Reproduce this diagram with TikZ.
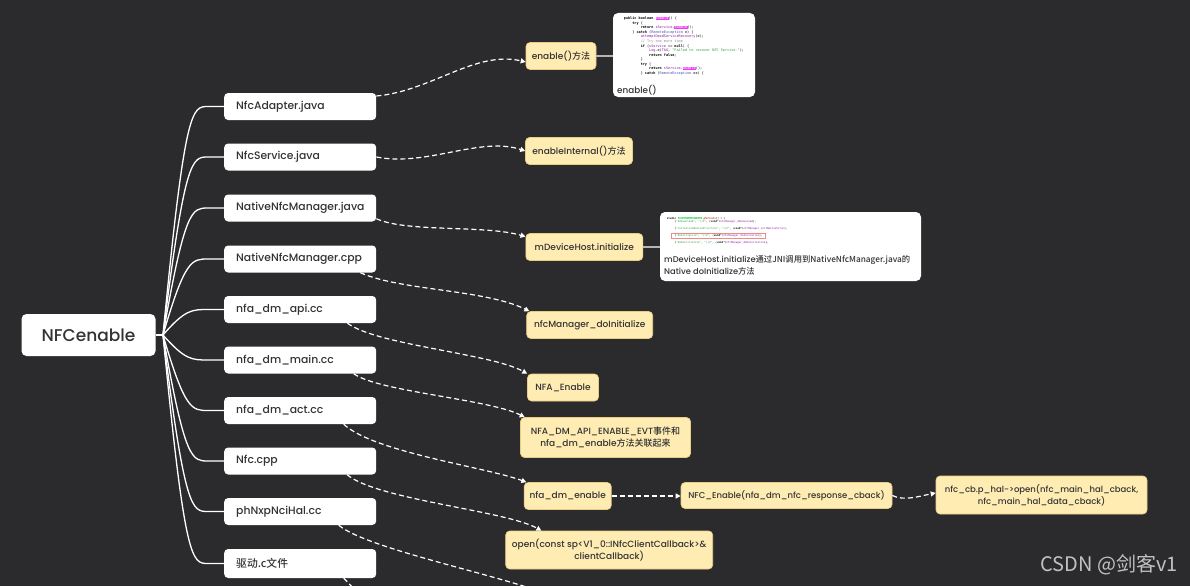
\documentclass[tikz,border=0pt]{standalone}
\usepackage{fontspec}
\setmainfont{Poppins}[UprightFont=* Medium,BoldFont=* Bold]
\newfontfamily\cjk{Noto Sans CJK SC}[UprightFont=* Medium]
\newfontfamily\cjkmark{Noto Sans CJK SC}
\newfontfamily\codefont{DejaVu Sans Mono}
\usetikzlibrary{arrows.meta}
\definecolor{bgdark}{HTML}{2B2B2D}
\definecolor{textdark}{HTML}{333333}
\definecolor{notefill}{HTML}{FFECB3}
\definecolor{noteline}{HTML}{E9CD84}
\definecolor{linkgray}{HTML}{B5B5B5}
\definecolor{codemag}{HTML}{F03CF0}
\definecolor{codepurple}{HTML}{8A1A9B}
\definecolor{codeblue}{HTML}{3F4FB8}
\definecolor{codegreen}{HTML}{2E9B3E}
\definecolor{codegray}{HTML}{8A8A8A}
\definecolor{codehl}{HTML}{5BD67A}
\definecolor{codered}{HTML}{F08A80}
\definecolor{markgray}{HTML}{D2D2D2}
\newcommand\hlmag[1]{{\setlength\fboxsep{0.2pt}\colorbox{codemag}{\textcolor{white}{#1}}}}
\newcommand\hlgreen[1]{{\setlength\fboxsep{0.2pt}\colorbox{codehl}{\textcolor{white}{#1}}}}
\begin{document}
\begin{tikzpicture}[x=1pt,y=-1pt,
    rootbox/.style={fill=white,rounded corners=5pt,text=textdark,font=\fontsize{17}{20}\selectfont,minimum width=134pt,minimum height=42pt},
    filebox/.style={fill=white,rounded corners=4pt,text=textdark,anchor=west,font=\fontsize{10.8}{13}\selectfont,text width=128pt,inner xsep=12pt,align=left,minimum height=27pt},
    notebox/.style={fill=notefill,draw=noteline,line width=0.6pt,rounded corners=4pt,text=textdark,font=\fontsize{9}{12}\selectfont,align=center,inner xsep=3pt,minimum height=27pt},
    codebox/.style={fill=white,rounded corners=5pt},
    codetext/.style={anchor=north west,inner sep=0pt,align=left,text=black},
    caption/.style={inner sep=0pt,text=textdark,align=left},
    branch/.style={white,line width=1.3pt},
    dashlink/.style={white,line width=1.2pt,dash pattern=on 5pt off 3pt,-{Triangle[width=5pt,length=5pt]}},
    graylink/.style={linkgray,line width=1.6pt}]
    \useasboundingbox (0,0) rectangle (1190,586);
    \fill[bgdark] (0,0) rectangle (1190,586);
    \clip (0,0) rectangle (1190,586);

    \node[rootbox] (root) at (88.5,335) {NFCenable};
    \coordinate (hub) at (163,335);
    \coordinate (hubA) at (185,335);
    \coordinate (hubB) at (192,335);
    \coordinate (hubC) at (208,335);

    \node[filebox] (adapter) at (224,106.5) {NfcAdapter.java};
    \node[filebox] (service) at (224,157) {NfcService.java};
    \node[filebox] (nmjava) at (224,208) {NativeNfcManager.java};
    \node[filebox] (nmcpp) at (224,259) {NativeNfcManager.cpp};
    \node[filebox] (dmapi) at (224,309.5) {nfa\_dm\_api.cc};
    \node[filebox] (dmmain) at (224,360) {nfa\_dm\_main.cc};
    \node[filebox] (dmact) at (224,410.5) {nfa\_dm\_act.cc};
    \node[filebox] (nfccpp) at (224,461) {Nfc.cpp};
    \node[filebox] (halcc) at (224,511.5) {phNxpNciHal.cc};
    \node[filebox,minimum height=29pt] (driver) at (224,563.5) {\cjk{驱动}.c\cjk{文件}};

    \node[notebox,minimum width=70pt] (enablem) at (561,56) {enable()\cjk{方法}};
    \node[notebox,minimum width=107pt] (internal) at (579,151) {enableInternal()\cjk{方法}};
    \node[notebox,minimum width=117pt] (devhost) at (584.3,247) {mDeviceHost.initialize};
    \node[notebox,minimum width=126pt] (doinit) at (589.7,325) {nfcManager\_doInitialize};
    \node[notebox,minimum width=71pt] (nfaen) at (563,387.5) {NFA\_Enable};
    \node[notebox,minimum width=170pt,minimum height=40pt] (evt) at (605.5,437.5) {NFA\_DM\_API\_ENABLE\_EVT\cjk{事件和}\\nfa\_dm\_enable\cjk{方法关联起来}};
    \node[notebox,minimum width=87pt] (dmenable) at (567.7,496) {nfa\_dm\_enable};
    \node[notebox,minimum width=207pt,minimum height=38pt] (halopen) at (609.2,550) {open(const sp<V1\_0::INfcClientCallback>\&\\clientCallback)};
    \node[notebox,minimum width=211pt,minimum height=26pt,font=\fontsize{8.5}{12}\selectfont] (nfcen) at (786.5,495.5) {NFC\_Enable(nfa\_dm\_nfc\_response\_cback)};
    \node[notebox,minimum width=211pt,minimum height=38pt,font=\fontsize{8.5}{12}\selectfont] (cbopen) at (1041.5,495) {nfc\_cb.p\_hal->open(nfc\_main\_hal\_cback,\\nfc\_main\_hal\_data\_cback)};

    \node[codebox,minimum width=142pt,minimum height=84pt] (codea) at (684,55) {};
    \node[codetext,font=\codefont\fontsize{3.5}{4.58}\selectfont] (codealines) at (623.7,16.5) {%
\textbf{public boolean} \hlmag{enable}() \{\\
\phantom{0000}\textbf{try} \{\\
\phantom{00000000}\textbf{return} \textcolor{codepurple}{sService}.\hlmag{enable}();\\
\phantom{0000}\} \textbf{catch} (\textcolor{codeblue}{RemoteException} e) \{\\
\phantom{00000000}\textcolor{codepurple}{attemptDeadServiceRecovery}(e);\\
\phantom{00000000}\textcolor{codegray}{// Try one more time}\\
\phantom{00000000}\textbf{if} (\textcolor{codepurple}{sService} == \textbf{null}) \{\\
\phantom{000000000000}\textcolor{codepurple}{Log}.e(\textcolor{codepurple}{TAG}, \textcolor{codegreen}{"Failed to recover NFC Service."});\\
\phantom{000000000000}\textbf{return false};\\
\phantom{00000000}\}\\
\phantom{00000000}\textbf{try} \{\\
\phantom{000000000000}\textbf{return} \textcolor{codepurple}{sService}.\hlmag{enable}();\\
\phantom{00000000}\} \textbf{catch} (\textcolor{codeblue}{RemoteException} ee) \{};
    \node[caption,anchor=west,font=\fontsize{8.8}{10}\selectfont] (capa) at (617,90) {enable()};

    \node[codebox,minimum width=261pt,minimum height=69pt] (codeb) at (790.5,246.5) {};
    \node[codetext,font=\codefont\fontsize{2.6}{7}\selectfont] (codeblines) at (666.7,216.8) {%
\textbf{static} \hlgreen{JNINativeMethod} \textcolor{red!80!black}{gMethods}[] = \{\\[-3.3pt]
\phantom{00000}\{\textcolor{codegreen}{"doDownload"}, \textcolor{codegreen}{"()Z"}, (\textbf{void}*)\textcolor{codepurple}{nfcManager\_doDownload}\},\\
\phantom{00000}\{\textcolor{codegreen}{"initializeNativeStructure"}, \textcolor{codegreen}{"()Z"}, (\textbf{void}*)\textcolor{codepurple}{nfcManager\_initNativeStruc}\},\\
\phantom{00000}\{\textcolor{codegreen}{"doInitialize"}, \textcolor{codegreen}{"()Z"}, (\textbf{void}*)\textcolor{codepurple}{nfcManager\_doInitialize}\},\\
\phantom{00000}\{\textcolor{codegreen}{"doDeinitialize"}, \textcolor{codegreen}{"()Z"}, (\textbf{void}*)\textcolor{codepurple}{nfcManager\_doDeinitialize}\},};
    \draw[codered,line width=0.5pt] (671,233.7) rectangle (765,238.6);
    \node[caption,anchor=north west,font=\fontsize{8.3}{12.4}\selectfont] (capb) at (664,255) {mDeviceHost.initialize\cjk{通过}JNI\cjk{调用到}NativeNfcManager.java\cjk{的}\\Native doInitialize\cjk{方法}};

    \node[font=\cjkmark\fontsize{20}{24}\selectfont,text=markgray,opacity=0.9] (mark) at (1109,565) {CSDN @剑客v1};

    \draw[branch] (root.east) -- (hub);
    \draw[branch] (hub) .. controls (hubA |- adapter.west) and (hubB |- adapter.west) .. (hubC |- adapter.west) -- (adapter.west);
    \draw[branch] (hub) .. controls (hubA |- service.west) and (hubB |- service.west) .. (hubC |- service.west) -- (service.west);
    \draw[branch] (hub) .. controls (hubA |- nmjava.west) and (hubB |- nmjava.west) .. (hubC |- nmjava.west) -- (nmjava.west);
    \draw[branch] (hub) .. controls (hubA |- nmcpp.west) and (hubB |- nmcpp.west) .. (hubC |- nmcpp.west) -- (nmcpp.west);
    \draw[branch] (hub) .. controls (hubA |- dmapi.west) and (hubB |- dmapi.west) .. (hubC |- dmapi.west) -- (dmapi.west);
    \draw[branch] (hub) .. controls (hubA |- dmmain.west) and (hubB |- dmmain.west) .. (hubC |- dmmain.west) -- (dmmain.west);
    \draw[branch] (hub) .. controls (hubA |- dmact.west) and (hubB |- dmact.west) .. (hubC |- dmact.west) -- (dmact.west);
    \draw[branch] (hub) .. controls (hubA |- nfccpp.west) and (hubB |- nfccpp.west) .. (hubC |- nfccpp.west) -- (nfccpp.west);
    \draw[branch] (hub) .. controls (hubA |- halcc.west) and (hubB |- halcc.west) .. (hubC |- halcc.west) -- (halcc.west);
    \draw[branch] (hub) .. controls (hubA |- driver.west) and (hubB |- driver.west) .. (hubC |- driver.west) -- (driver.west);

    \draw[graylink] (enablem.east) -- (enablem.east -| codea.west);
    \draw[graylink] (devhost.east) -- (devhost.east -| codeb.west);

    \coordinate (halnext) at (560,600);
    \coordinate (drvnext) at (362,598);
    \draw[dashlink] ([yshift=10.5pt]adapter.east) .. controls +(55,-5) and +(-50,-12) .. ([yshift=-6pt]enablem.west);
    \draw[dashlink] (service.east) .. controls +(50,10) and +(-45,-15) .. (internal.west);
    \draw[dashlink] ([yshift=3pt]nmjava.south east) .. controls +(30,14) and +(-40,-12) .. ([yshift=-3.5pt]devhost.north west);
    \draw[dashlink] ([xshift=-16pt]nmcpp.south east) .. controls +(40,18) and +(-45,-22) .. ([xshift=3pt]doinit.north west);
    \draw[dashlink] ([xshift=-29pt]dmapi.south east) .. controls +(30,22) and +(-35,-20) .. (nfaen.north west);
    \draw[dashlink] ([xshift=-22.7pt]dmmain.south east) .. controls +(25,18) and +(-35,-18) .. ([xshift=4.5pt]evt.north west);
    \draw[dashlink] ([xshift=-32.7pt]dmact.south east) .. controls +(30,28) and +(-40,-15) .. ([xshift=2.5pt]dmenable.north west);
    \draw[dashlink] ([xshift=-29.3pt]nfccpp.south east) .. controls +(30,25) and +(-35,-20) .. ([xshift=36pt]halopen.north west);
    \draw[dashlink] ([xshift=-37.7pt]halcc.south east) .. controls +(30,25) and +(-45,-22) .. (halnext);
    \draw[dashlink] ([xshift=-32.7pt]driver.south east) .. controls +(4,4) and +(-4,-5) .. (drvnext);
    \draw[dashlink] (dmenable.east) -- (dmenable.east -| nfcen.west);
    \draw[dashlink] (nfcen.east) .. controls +(12,6) and +(-16,3) .. ([yshift=2pt]cbopen.west);
\end{tikzpicture}
\end{document}
